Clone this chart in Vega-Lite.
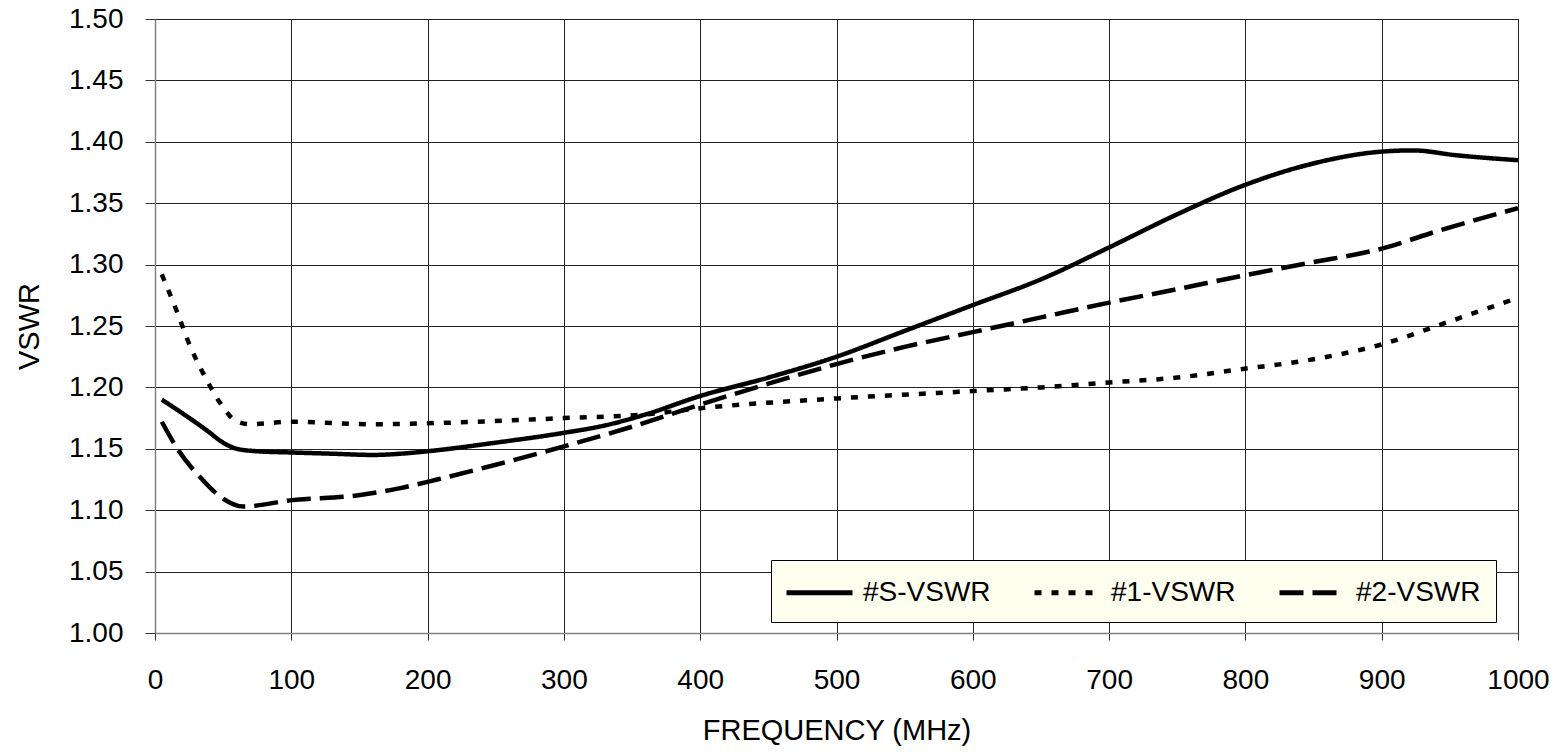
{
  "$schema": "https://vega.github.io/schema/vega-lite/v6.json",
  "width": 1363,
  "height": 614,
  "autosize": {"type": "none"},
  "padding": {"left": 155, "top": 19, "right": 35, "bottom": 120},
  "background": "white",
  "config": {
    "font": "Liberation Sans",
    "view": {"stroke": "#000000", "strokeWidth": 1},
    "axis": {"labelFont": "Liberation Sans", "titleFont": "Liberation Sans", "labelColor": "#000", "titleColor": "#000"}
  },
  "data": {
    "values": [
      {"f": 5, "v": 1.190, "s": "#S-VSWR"},
      {"f": 20, "v": 1.179, "s": "#S-VSWR"},
      {"f": 38, "v": 1.165, "s": "#S-VSWR"},
      {"f": 50, "v": 1.155, "s": "#S-VSWR"},
      {"f": 60, "v": 1.150, "s": "#S-VSWR"},
      {"f": 75, "v": 1.148, "s": "#S-VSWR"},
      {"f": 100, "v": 1.147, "s": "#S-VSWR"},
      {"f": 130, "v": 1.146, "s": "#S-VSWR"},
      {"f": 160, "v": 1.145, "s": "#S-VSWR"},
      {"f": 180, "v": 1.146, "s": "#S-VSWR"},
      {"f": 200, "v": 1.148, "s": "#S-VSWR"},
      {"f": 250, "v": 1.155, "s": "#S-VSWR"},
      {"f": 300, "v": 1.163, "s": "#S-VSWR"},
      {"f": 330, "v": 1.169, "s": "#S-VSWR"},
      {"f": 360, "v": 1.178, "s": "#S-VSWR"},
      {"f": 400, "v": 1.193, "s": "#S-VSWR"},
      {"f": 450, "v": 1.208, "s": "#S-VSWR"},
      {"f": 500, "v": 1.225, "s": "#S-VSWR"},
      {"f": 550, "v": 1.246, "s": "#S-VSWR"},
      {"f": 600, "v": 1.267, "s": "#S-VSWR"},
      {"f": 650, "v": 1.288, "s": "#S-VSWR"},
      {"f": 700, "v": 1.314, "s": "#S-VSWR"},
      {"f": 750, "v": 1.341, "s": "#S-VSWR"},
      {"f": 800, "v": 1.365, "s": "#S-VSWR"},
      {"f": 845, "v": 1.381, "s": "#S-VSWR"},
      {"f": 900, "v": 1.392, "s": "#S-VSWR"},
      {"f": 923, "v": 1.393, "s": "#S-VSWR"},
      {"f": 955, "v": 1.389, "s": "#S-VSWR"},
      {"f": 1000, "v": 1.385, "s": "#S-VSWR"},

      {"f": 5, "v": 1.292, "s": "#1-VSWR"},
      {"f": 16, "v": 1.262, "s": "#1-VSWR"},
      {"f": 26, "v": 1.233, "s": "#1-VSWR"},
      {"f": 37, "v": 1.208, "s": "#1-VSWR"},
      {"f": 48, "v": 1.187, "s": "#1-VSWR"},
      {"f": 59, "v": 1.173, "s": "#1-VSWR"},
      {"f": 70, "v": 1.170, "s": "#1-VSWR"},
      {"f": 99, "v": 1.172, "s": "#1-VSWR"},
      {"f": 160, "v": 1.170, "s": "#1-VSWR"},
      {"f": 207, "v": 1.171, "s": "#1-VSWR"},
      {"f": 300, "v": 1.175, "s": "#1-VSWR"},
      {"f": 360, "v": 1.178, "s": "#1-VSWR"},
      {"f": 400, "v": 1.183, "s": "#1-VSWR"},
      {"f": 500, "v": 1.191, "s": "#1-VSWR"},
      {"f": 600, "v": 1.197, "s": "#1-VSWR"},
      {"f": 650, "v": 1.200, "s": "#1-VSWR"},
      {"f": 700, "v": 1.204, "s": "#1-VSWR"},
      {"f": 750, "v": 1.208, "s": "#1-VSWR"},
      {"f": 798, "v": 1.215, "s": "#1-VSWR"},
      {"f": 845, "v": 1.222, "s": "#1-VSWR"},
      {"f": 900, "v": 1.235, "s": "#1-VSWR"},
      {"f": 948, "v": 1.253, "s": "#1-VSWR"},
      {"f": 1000, "v": 1.273, "s": "#1-VSWR"},

      {"f": 5, "v": 1.172, "s": "#2-VSWR"},
      {"f": 17, "v": 1.149, "s": "#2-VSWR"},
      {"f": 33, "v": 1.127, "s": "#2-VSWR"},
      {"f": 48, "v": 1.111, "s": "#2-VSWR"},
      {"f": 65, "v": 1.103, "s": "#2-VSWR"},
      {"f": 99, "v": 1.108, "s": "#2-VSWR"},
      {"f": 148, "v": 1.112, "s": "#2-VSWR"},
      {"f": 180, "v": 1.118, "s": "#2-VSWR"},
      {"f": 207, "v": 1.125, "s": "#2-VSWR"},
      {"f": 250, "v": 1.137, "s": "#2-VSWR"},
      {"f": 300, "v": 1.152, "s": "#2-VSWR"},
      {"f": 350, "v": 1.168, "s": "#2-VSWR"},
      {"f": 400, "v": 1.186, "s": "#2-VSWR"},
      {"f": 450, "v": 1.203, "s": "#2-VSWR"},
      {"f": 500, "v": 1.219, "s": "#2-VSWR"},
      {"f": 550, "v": 1.233, "s": "#2-VSWR"},
      {"f": 600, "v": 1.245, "s": "#2-VSWR"},
      {"f": 650, "v": 1.257, "s": "#2-VSWR"},
      {"f": 700, "v": 1.269, "s": "#2-VSWR"},
      {"f": 750, "v": 1.280, "s": "#2-VSWR"},
      {"f": 798, "v": 1.291, "s": "#2-VSWR"},
      {"f": 845, "v": 1.301, "s": "#2-VSWR"},
      {"f": 900, "v": 1.313, "s": "#2-VSWR"},
      {"f": 943, "v": 1.328, "s": "#2-VSWR"},
      {"f": 1000, "v": 1.346, "s": "#2-VSWR"}
    ]
  },
  "mark": {"type": "line", "interpolate": "monotone", "stroke": "#000000", "strokeWidth": 4.5, "clip": true},
  "encoding": {
    "x": {
      "field": "f", "type": "quantitative",
      "scale": {"domain": [0, 1000], "nice": false, "zero": false},
      "axis": {
        "title": "FREQUENCY (MHz)", "values": [0,100,200,300,400,500,600,700,800,900,1000],
        "format": "d",
        "grid": true, "gridColor": "#222222", "gridWidth": 1,
        "domainColor": "#808080", "domainWidth": 1.5,
        "tickColor": "#333333", "tickSize": 7,
        "labelFontSize": 28, "labelPadding": 26, "labelFlush": false,
        "titleFontSize": 29, "titleFontWeight": "normal", "titlePadding": 22
      }
    },
    "y": {
      "field": "v", "type": "quantitative",
      "scale": {"domain": [1.0, 1.5], "nice": false, "zero": false},
      "axis": {
        "title": "VSWR", "values": [1.0,1.05,1.1,1.15,1.2,1.25,1.3,1.35,1.4,1.45,1.5],
        "format": ".2f",
        "grid": true, "gridColor": "#222222", "gridWidth": 1,
        "domainColor": "#808080", "domainWidth": 1.5,
        "tickColor": "#333333", "tickSize": 10,
        "labelFontSize": 28, "labelPadding": 22, "labelFlush": false,
        "titleFontSize": 29, "titleFontWeight": "normal", "titlePadding": 24
      }
    },
    "strokeDash": {
      "field": "s", "type": "nominal",
      "scale": {"domain": ["#S-VSWR", "#1-VSWR", "#2-VSWR"], "range": [[1, 0], [7, 10], [24, 9]]},
      "legend": {
        "title": null,
        "orient": "none", "legendX": 616, "legendY": 541,
        "direction": "horizontal",
        "fillColor": "#FFFFF0", "strokeColor": "#000000",
        "padding": 15,
        "symbolType": "M-2.2,0H2.2", "symbolSize": 900, "symbolOffset": 16,
        "symbolStrokeWidth": 5, "symbolStrokeColor": "#000000", "symbolFillColor": "transparent",
        "labelFontSize": 28, "labelFont": "Liberation Sans", "labelColor": "#000", "labelOffset": 26,
        "columnPadding": 33, "labelLimit": 300
      }
    }
  }
}
